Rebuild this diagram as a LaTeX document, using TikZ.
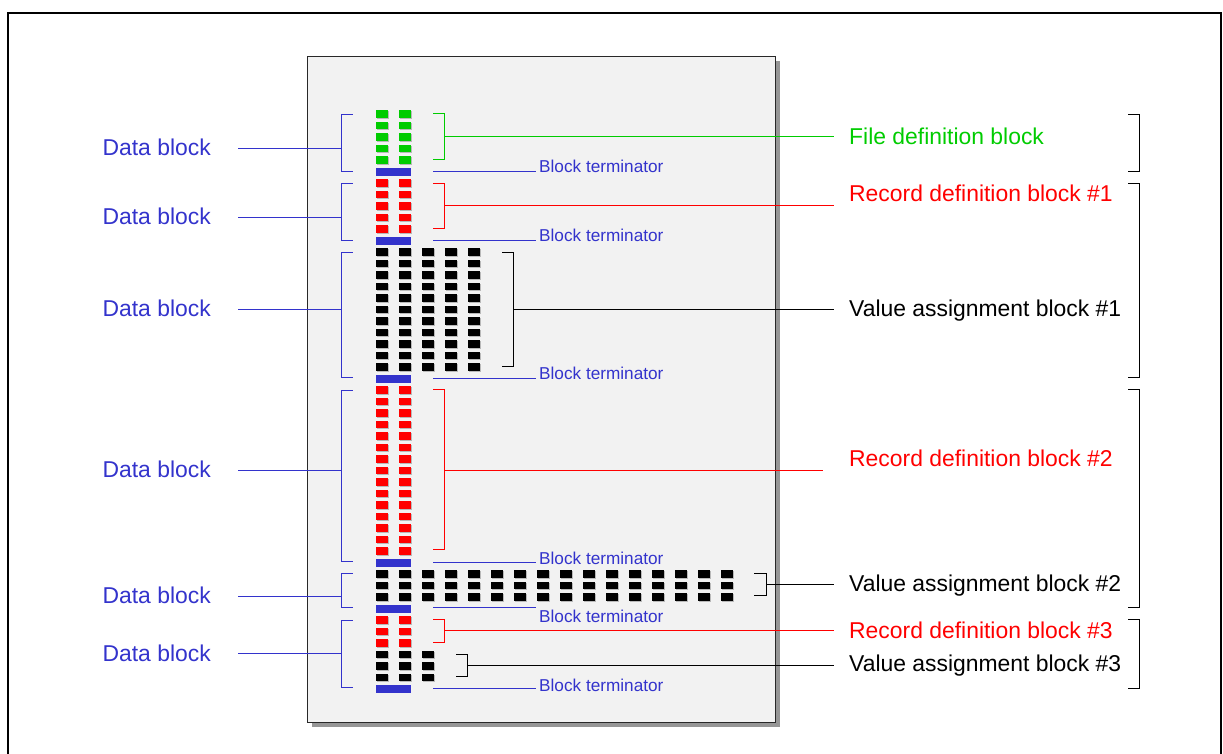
\documentclass[tikz,border=0pt]{standalone}
\usepackage{fontspec}
\setmainfont{Liberation Sans}
\definecolor{blueC}{RGB}{51,51,204}
\definecolor{greenC}{RGB}{0,204,0}
\definecolor{redC}{RGB}{255,0,0}
\definecolor{pageC}{RGB}{242,242,242}
\definecolor{shadowC}{RGB}{150,150,150}
\definecolor{edgeC}{RGB}{40,40,40}
\definecolor{cellshadowC}{RGB}{185,185,185}
\newcommand{\bigfont}{\fontsize{22.9pt}{27pt}\selectfont}
\newcommand{\smallfont}{\fontsize{17.2pt}{20pt}\selectfont}
% \cellgrid{colour}{first row index}{rows}{columns}
\newcommand{\cellgrid}[4]{%
  \foreach \rr in {1,...,#3}{%
    \foreach \cc in {1,...,#4}{%
      \fill[cellshadowC] ({377+23*(\cc-1)},{111+11.5*(#2+\rr-1)}) rectangle ++(11.7,7.8);
      \fill[#1] ({376+23*(\cc-1)},{110+11.5*(#2+\rr-1)}) rectangle ++(11.7,7.8);
    }%
  }%
}
\newcommand{\termbar}[1]{%
  \fill[blueC] (376,{110+11.5*#1}) rectangle ++(34.7,8);
}
\tikzset{
  bigl/.style={font=\bigfont, inner sep=0pt},
  smalll/.style={font=\smallfont, inner sep=0pt, text=blueC, anchor=base west},
  conn/.style={line width=1pt},
  brk/.style={line width=1pt},
}
\begin{document}
\begin{tikzpicture}[x=1pt,y=-1pt]
\useasboundingbox (0,0) rectangle (1223,753);
% outer frame
\draw[line width=2pt] (8,13) rectangle (1221,800);
% page with shadow
\fill[shadowC] (312,61) rectangle (780,727);
\filldraw[fill=pageC, draw=edgeC, line width=1pt] (307,56) rectangle (775,722);

% cells
\cellgrid{greenC}{0}{5}{2}
\termbar{5}
\cellgrid{redC}{6}{5}{2}
\termbar{11}
\cellgrid{black}{12}{11}{5}
\termbar{23}
\cellgrid{redC}{24}{15}{2}
\termbar{39}
\cellgrid{black}{40}{3}{16}
\termbar{43}
\cellgrid{redC}{44}{3}{2}
\cellgrid{black}{47}{3}{3}
\termbar{50}

% left "Data block" labels and brackets
\foreach \i/\top/\bot/\ly/\by in {1/114/171.3/148.3/155, 2/183.3/240.3/217.3/224, 3/252.3/377.7/309.3/316, 4/390/561.7/470/477, 5/573.7/607.7/596.7/603, 6/620/687.7/653.7/661}{
  \node[bigl, text=blueC, anchor=base east] (d\i) at (211,\by) {Data block};
  \coordinate (dl\i) at (238.3,\ly);
  \coordinate (db\i) at (341.7,\ly);
  \draw[brk, blueC] (352.7,\top) -- (341.7,\top) -- (341.7,\bot) -- (352.7,\bot);
  \draw[conn, blueC] (dl\i) -- (db\i);
}

% block terminators
\foreach \i/\ly/\by in {1/171.3/172.5, 2/240.3/241.5, 3/378.3/379.5, 4/562/564, 5/607.7/622, 6/688.5/691}{
  \coordinate (ts\i) at (433.3,\ly);
  \coordinate (te\i) at (536,\ly);
  \node[smalll] (t\i) at (539,\by) {Block terminator};
  \draw[conn, blueC] (ts\i) -- (te\i);
}

% right-hand labels with small brackets
\foreach \n/\col/\xv/\xa/\top/\bot/\ly/\xe/\by/\txt in {
  fd/greenC/444.3/433.3/113.7/159.7/136.7/834/144/File definition block,
  r1/redC/444.3/433.3/183/228.7/205.8/834/201/Record definition block \#1,
  v1/black/513.3/502/252/366.7/309.3/834/316/Value assignment block \#1,
  r2/redC/444.3/433.3/389.7/549.7/470/823/466/Record definition block \#2,
  v2/black/766/754/573.3/595.7/584.3/834/591/Value assignment block \#2,
  r3/redC/444.3/433.3/619.3/642.3/630.7/834/638/Record definition block \#3,
  v3/black/467.3/456/654/676.7/665.3/834/671/Value assignment block \#3}{
  \node[bigl, text=\col, anchor=base west] (\n) at (849,\by) {\txt};
  \coordinate (\n s) at (\xv,\ly);
  \coordinate (\n e) at (\xe,\ly);
  \draw[brk, \col] (\xa,\top) -- (\xv,\top) -- (\xv,\bot) -- (\xa,\bot);
  \draw[conn, \col] (\n s) -- (\n e);
}

% far right brackets
\foreach \top/\bot in {114/171, 183/377.3, 389.7/607.7, 619.3/688.3}{
  \draw[brk, black] (1128.3,\top) -- (1139.7,\top) -- (1139.7,\bot) -- (1128.3,\bot);
}
\end{tikzpicture}
\end{document}
